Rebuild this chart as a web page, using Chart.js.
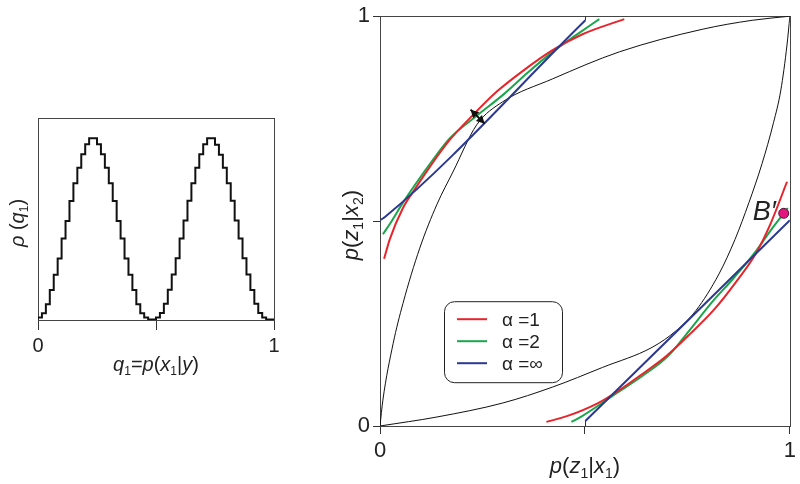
<!DOCTYPE html>
<html>
<head>
<meta charset="utf-8">
<script src="https://cdn.jsdelivr.net/npm/chart.js@4.4.1/dist/chart.umd.min.js"></script>
<style>
  html, body { margin: 0; padding: 0; background: #fff; }
  #wrap { position: relative; width: 800px; height: 484px; }
  canvas { position: absolute; top: 0; }
  #left { left: 0; width: 300px; height: 484px; }
  #right { left: 300px; width: 500px; height: 484px; }
</style>
</head>
<body>
<div id="wrap">
  <canvas id="left" width="300" height="484"></canvas>
  <canvas id="right" width="500" height="484"></canvas>
</div>
<script>
// left panel: histogram of q1, 60 bins
const rhoSteps = [
  0.003, 0.012, 0.034, 0.078, 0.148, 0.224, 0.304, 0.403, 0.490, 0.589,
  0.677, 0.754, 0.820, 0.870, 0.900, 0.900, 0.870, 0.820, 0.754, 0.677,
  0.589, 0.490, 0.403, 0.304, 0.224, 0.148, 0.078, 0.034, 0.012, 0.003,
  0.003, 0.012, 0.035, 0.080, 0.150, 0.225, 0.306, 0.403, 0.492, 0.590,
  0.677, 0.754, 0.820, 0.870, 0.900, 0.900, 0.868, 0.818, 0.754, 0.677,
  0.590, 0.492, 0.403, 0.306, 0.225, 0.148, 0.080, 0.035, 0.012, 0.003
];
const axisTicks = [0, 0.5, 1];
const tickLabels = { 0: '0', 1: '1' };

// right panel curves, [p(z1|x1), p(z1|x2)]
const edgeUpper = [[0, 0], [0.007, 0.063], [0.032, 0.201], [0.056, 0.299], [0.097, 0.434], [0.139, 0.541],
  [0.178, 0.620], [0.236, 0.735], [0.299, 0.791], [0.421, 0.847], [0.584, 0.913], [0.786, 0.968], [0.908, 0.990], [1, 1]];
const edgeLower = [[0, 0], [0.139, 0.022], [0.299, 0.056], [0.421, 0.095], [0.543, 0.143], [0.664, 0.192],
  [0.723, 0.233], [0.771, 0.282], [0.827, 0.371], [0.866, 0.455], [0.900, 0.545], [0.932, 0.640], [0.960, 0.740],
  [0.978, 0.820], [0.993, 0.930], [1, 1]];

const redUpper = [[0.010, 0.408], [0.024, 0.456], [0.056, 0.532], [0.085, 0.578], [0.122, 0.633], [0.170, 0.698],
  [0.226, 0.758], [0.285, 0.816], [0.348, 0.866], [0.421, 0.917], [0.494, 0.956], [0.596, 0.993]];
const greenUpper = [[0.007, 0.468], [0.024, 0.493], [0.056, 0.545], [0.085, 0.588], [0.122, 0.640], [0.170, 0.702],
  [0.236, 0.757], [0.300, 0.808], [0.360, 0.862], [0.421, 0.913], [0.480, 0.955], [0.535, 0.993]];
const blueUpper = [[0, 0.502], [0.012, 0.510], [0.501, 0.990]];

const redLower = [[0.406, 0.010], [0.456, 0.024], [0.532, 0.056], [0.577, 0.083], [0.633, 0.122], [0.698, 0.170],
  [0.758, 0.226], [0.816, 0.285], [0.866, 0.348], [0.917, 0.421], [0.953, 0.494], [0.993, 0.596]];
const greenLower = [[0.467, 0.010], [0.493, 0.024], [0.577, 0.080], [0.640, 0.122], [0.702, 0.170], [0.757, 0.236],
  [0.808, 0.300], [0.862, 0.360], [0.913, 0.421], [0.955, 0.480], [0.995, 0.532]];
const blueLower = [[0.501, 0.012], [1, 0.502]];

const pointB = [[0.985, 0.519]];
const arrowEnds = [[0.221, 0.772], [0.255, 0.738]];

const legendLabels = ['α =1', 'α =2', 'α =∞'];
const alphaColors = ['#e8242b', '#1aa64b', '#2b3990'];

const FAM = '"Liberation Sans", Arial, Helvetica, sans-serif';
const toXY = arr => arr.map(p => ({ x: p[0], y: p[1] }));

// draws text like p(z1|x1): 'i' italic, 's' subscript, 'n' normal
function drawRich(ctx, segs, cx, cy, size, rotate) {
  ctx.save();
  ctx.translate(cx, cy);
  if (rotate) ctx.rotate(-Math.PI / 2);
  const fontOf = s => (s[1] === 'i' ? 'italic ' : '') + (s[1] === 's' ? Math.round(size * 0.62) : size) + 'px ' + FAM;
  let w = 0;
  segs.forEach(s => { ctx.font = fontOf(s); w += ctx.measureText(s[0]).width; });
  let x = -w / 2;
  ctx.fillStyle = '#222';
  ctx.textBaseline = 'alphabetic';
  ctx.textAlign = 'left';
  segs.forEach(s => {
    ctx.font = fontOf(s);
    ctx.fillText(s[0], x, s[1] === 's' ? size * 0.57 : size * 0.35);
    x += ctx.measureText(s[0]).width;
  });
  ctx.restore();
}

const framePlugin = {
  id: 'frame',
  beforeDatasetsDraw(chart) {
    const { ctx, chartArea: a } = chart;
    ctx.save();
    ctx.strokeStyle = '#444';
    ctx.lineWidth = 1;
    ctx.strokeRect(Math.round(a.left) + 0.5, Math.round(a.top) + 0.5,
      Math.round(a.right - a.left), Math.round(a.bottom - a.top));
    ctx.restore();
  }
};

const tickStyle = {
  font: { family: FAM, size: 20 },
  color: '#222',
  maxRotation: 0,
  callback: v => tickLabels[v] ?? ''
};

// ---------- left panel ----------
const stepPoints = rhoSteps.map((v, i) => ({ x: i / rhoSteps.length, y: v }));
stepPoints.push({ x: 1, y: rhoSteps[rhoSteps.length - 1] });

new Chart(document.getElementById('left'), {
  type: 'line',
  data: {
    datasets: [{
      data: stepPoints,
      borderColor: '#111',
      borderWidth: 2,
      stepped: 'after',
      pointRadius: 0,
      fill: false
    }]
  },
  options: {
    responsive: false,
    animation: false,
    layout: { padding: { left: 38, right: 26, top: 118, bottom: 0 } },
    plugins: { legend: { display: false }, tooltip: { enabled: false } },
    scales: {
      x: {
        type: 'linear', min: 0, max: 1,
        afterBuildTicks: s => { s.ticks = axisTicks.map(v => ({ value: v })); },
        afterFit: s => { s.height = 164; },
        grid: { drawOnChartArea: false, tickLength: 10, color: '#333' },
        border: { display: false },
        ticks: { ...tickStyle, padding: 4 }
      },
      y: { display: false, min: 0, max: 1 }
    }
  },
  plugins: [framePlugin, {
    id: 'leftTitles',
    afterDraw(chart) {
      const { ctx, chartArea: a } = chart;
      drawRich(ctx, [['q', 'i'], ['1', 's'], ['=', 'n'], ['p', 'i'], ['(', 'n'], ['x', 'i'], ['1', 's'], ['|', 'n'], ['y', 'i'], [')', 'n']],
        (a.left + a.right) / 2, a.bottom + 44, 20, false);
      drawRich(ctx, [['ρ', 'i'], [' (', 'n'], ['q', 'i'], ['1', 's'], [')', 'n']],
        17, (a.top + a.bottom) / 2 + 4, 20, true);
    }
  }]
});

// ---------- right panel ----------
const lineSet = (arr, color, width, order) => ({
  data: toXY(arr), borderColor: color, borderWidth: width, pointRadius: 0,
  fill: false, cubicInterpolationMode: 'monotone', order: order
});

new Chart(document.getElementById('right'), {
  type: 'line',
  data: {
    datasets: [
      lineSet(edgeUpper, '#111', 1, 5),
      lineSet(edgeLower, '#111', 1, 5),
      lineSet(redUpper, alphaColors[0], 2, 3),
      lineSet(redLower, alphaColors[0], 2, 3),
      lineSet(greenUpper, alphaColors[1], 2, 3),
      lineSet(greenLower, alphaColors[1], 2, 3),
      lineSet(blueUpper, alphaColors[2], 2, 2),
      lineSet(blueLower, alphaColors[2], 2, 2),
      {
        data: toXY(pointB), showLine: false, pointRadius: 5,
        pointBackgroundColor: '#e3157f', pointBorderColor: '#5a1035', pointBorderWidth: 1, order: 1
      }
    ]
  },
  options: {
    responsive: false,
    animation: false,
    layout: { padding: { left: 0, right: 9, top: 14, bottom: 0 } },
    plugins: { legend: { display: false }, tooltip: { enabled: false } },
    scales: {
      x: {
        type: 'linear', min: 0, max: 1,
        afterBuildTicks: s => { s.ticks = axisTicks.map(v => ({ value: v })); },
        afterFit: s => { s.height = 58; },
        grid: { drawOnChartArea: false, tickLength: 8, color: '#333' },
        border: { display: false },
        ticks: { ...tickStyle, font: { family: FAM, size: 22 }, padding: 4 }
      },
      y: {
        type: 'linear', min: 0, max: 1,
        afterBuildTicks: s => { s.ticks = axisTicks.map(v => ({ value: v })); },
        afterFit: s => { s.width = 80; },
        grid: { drawOnChartArea: false, tickLength: 7, color: '#333' },
        border: { display: false },
        ticks: { ...tickStyle, font: { family: FAM, size: 22 }, padding: 3 }
      }
    }
  },
  plugins: [framePlugin, {
    id: 'overlay',
    afterDatasetsDraw(chart) {
      const { ctx, chartArea: a, scales: { x, y } } = chart;
      ctx.save();

      // small inner ticks at 0.5 on top and bottom
      ctx.strokeStyle = '#333';
      ctx.lineWidth = 1;
      const mx = Math.round(x.getPixelForValue(0.5)) + 0.5;
      ctx.beginPath();
      ctx.moveTo(mx, a.top); ctx.lineTo(mx, a.top + 4);
      ctx.moveTo(mx, a.bottom); ctx.lineTo(mx, a.bottom - 5);
      ctx.stroke();

      // double-headed arrow
      const p1 = { x: x.getPixelForValue(arrowEnds[0][0]), y: y.getPixelForValue(arrowEnds[0][1]) };
      const p2 = { x: x.getPixelForValue(arrowEnds[1][0]), y: y.getPixelForValue(arrowEnds[1][1]) };
      const ang = Math.atan2(p2.y - p1.y, p2.x - p1.x);
      ctx.strokeStyle = '#111';
      ctx.fillStyle = '#111';
      ctx.lineWidth = 2;
      ctx.beginPath(); ctx.moveTo(p1.x, p1.y); ctx.lineTo(p2.x, p2.y); ctx.stroke();
      const head = (p, a0) => {
        ctx.beginPath();
        ctx.moveTo(p.x, p.y);
        ctx.lineTo(p.x - 9 * Math.cos(a0 - 0.5), p.y - 9 * Math.sin(a0 - 0.5));
        ctx.lineTo(p.x - 9 * Math.cos(a0 + 0.5), p.y - 9 * Math.sin(a0 + 0.5));
        ctx.closePath();
        ctx.fill();
      };
      head(p2, ang);
      head(p1, ang + Math.PI);

      // B' label
      const bx = x.getPixelForValue(pointB[0][0]);
      const by = y.getPixelForValue(pointB[0][1]);
      ctx.font = 'italic 27px ' + FAM;
      ctx.fillStyle = '#222';
      ctx.textAlign = 'right';
      ctx.textBaseline = 'alphabetic';
      ctx.fillText('B\u2032', bx - 8, by + 7);

      // legend box
      const lx = a.left + 64, ly = a.top + 285, lw = 118, lh = 81;
      ctx.beginPath();
      ctx.roundRect(lx + 0.5, ly + 0.5, lw, lh, 10);
      ctx.fillStyle = '#fff';
      ctx.fill();
      ctx.strokeStyle = '#222';
      ctx.lineWidth = 1;
      ctx.stroke();
      legendLabels.forEach((lab, i) => {
        const ry = ly + 18 + i * 22;
        ctx.strokeStyle = alphaColors[i];
        ctx.lineWidth = 2;
        ctx.beginPath(); ctx.moveTo(lx + 13, ry); ctx.lineTo(lx + 43, ry); ctx.stroke();
        ctx.fillStyle = '#222';
        ctx.font = '19px ' + FAM;
        ctx.textAlign = 'left';
        ctx.fillText(lab, lx + 58, ry + 7);
      });
      ctx.restore();
    },
    afterDraw(chart) {
      const { ctx, chartArea: a } = chart;
      drawRich(ctx, [['p', 'i'], ['(', 'n'], ['z', 'i'], ['1', 's'], ['|', 'n'], ['x', 'i'], ['1', 's'], [')', 'n']],
        (a.left + a.right) / 2, a.bottom + 39, 22, false);
      drawRich(ctx, [['p', 'i'], ['(', 'n'], ['z', 'i'], ['1', 's'], ['|', 'n'], ['x', 'i'], ['2', 's'], [')', 'n']],
        50, (a.top + a.bottom) / 2 + 4, 22, true);
    }
  }]
});
</script>
</body>
</html>
